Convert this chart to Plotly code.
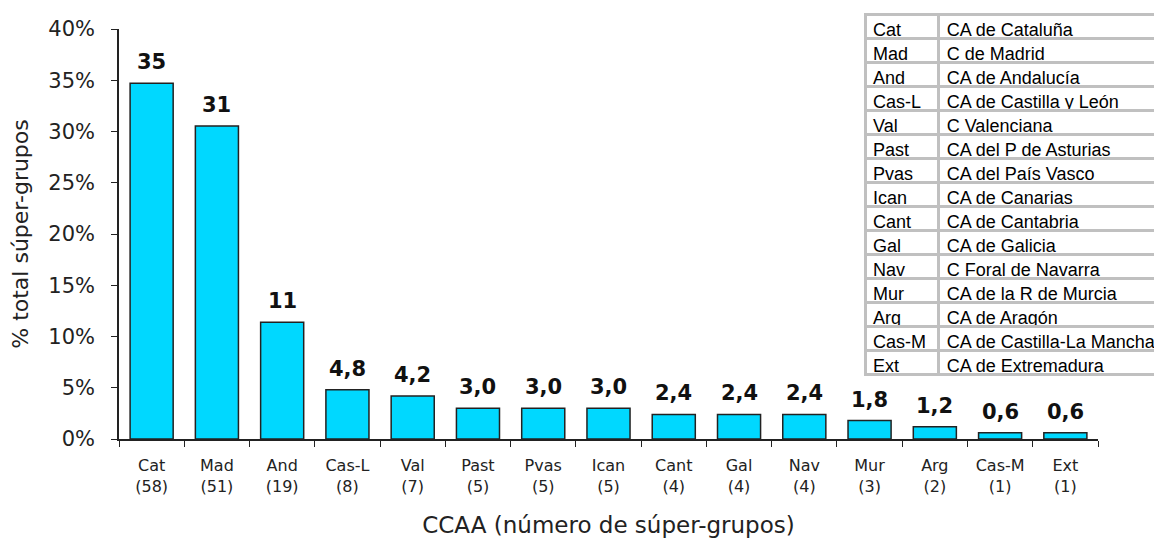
import plotly.graph_objects as go
from decimal import Decimal, ROUND_HALF_UP

# ---- data ----
codes = ["Cat", "Mad", "And", "Cas-L", "Val", "Past", "Pvas", "Ican", "Cant", "Gal", "Nav", "Mur", "Arg", "Cas-M", "Ext"]
counts = [58, 51, 19, 8, 7, 5, 5, 5, 4, 4, 4, 3, 2, 1, 1]
pct = [34.7, 30.54, 11.4, 4.8, 4.2, 3.0, 3.0, 3.0, 2.4, 2.4, 2.4, 1.8, 1.2, 0.6, 0.6]
names = ["CA de Cataluña", "C de Madrid", "CA de Andalucía", "CA de Castilla y León",
         "C Valenciana", "CA del P de Asturias", "CA del País Vasco", "CA de Canarias",
         "CA de Cantabria", "CA de Galicia", "C Foral de Navarra", "CA de la R de Murcia",
         "CA de Aragón", "CA de Castilla-La Mancha", "CA de Extremadura"]
yticks = [0, 5, 10, 15, 20, 25, 30, 35, 40]


def fmt(v):
    if v >= 10:
        return str(Decimal(str(v)).quantize(Decimal("1"), rounding=ROUND_HALF_UP))
    return str(Decimal(str(v)).quantize(Decimal("0.1"), rounding=ROUND_HALF_UP)).replace(".", ",")


xlabels = [f"{c}<br>({n})" for c, n in zip(codes, counts)]
labels = [fmt(v) for v in pct]

W, H = 1162, 550
ml, mr, mt, mb = 111, 0, 0, 119
pw, ph = W - ml - mr, H - mt - mb

fig = go.Figure()
fig.add_trace(go.Bar(
    x=xlabels, y=pct,
    marker=dict(color="#00D8FF", line=dict(color="#222222", width=1.5)),
    showlegend=False, hoverinfo="x+y",
))

for xl, v, lab in zip(xlabels, pct, labels):
    fig.add_annotation(x=xl, y=v, text=f"<b>{lab}</b>", showarrow=False,
                       yanchor="bottom", yshift=7,
                       font=dict(family="DejaVu Sans", size=21, color="#111111"))

fig.add_trace(go.Table(
    domain=dict(x=[(857 - ml) / pw, 1.0], y=[(431 - 384) / ph, (431 - 6) / ph]),
    columnwidth=[72, 225],
    header=dict(values=[codes[0], names[0]], align="left", height=24,
                fill_color="white", line=dict(color="#c0c0c0", width=3),
                font=dict(family="Liberation Sans", size=18, color="black")),
    cells=dict(values=[codes[1:], names[1:]], align="left", height=24,
               fill_color="white", line=dict(color="#c0c0c0", width=3),
               font=dict(family="Liberation Sans", size=18, color="black")),
))

fig.update_layout(
    width=W, height=H,
    margin=dict(l=ml, r=mr, t=mt, b=mb, autoexpand=False),
    paper_bgcolor="white", plot_bgcolor="white",
    bargap=0.34,
    font=dict(family="DejaVu Sans", color="#222222"),
    xaxis=dict(
        domain=[0, (1090 - ml) / pw], automargin=False,
        showline=True, linecolor="#222222", linewidth=1.5,
        ticks="outside", tickson="boundaries", ticklen=6, tickcolor="#222222",
        tickfont=dict(size=16), ticklabelstandoff=11,
        title=dict(text="CCAA (número de súper-grupos)", font=dict(size=23), standoff=22),
    ),
    yaxis=dict(
        domain=[0, (431 - 21) / ph], automargin=False,
        range=[0, 40], tickvals=yticks, ticktext=[f"{t}%" for t in yticks],
        showline=True, linecolor="#222222", linewidth=1.5,
        ticks="outside", ticklen=6, tickcolor="#222222",
        showgrid=False, zeroline=False,
        tickfont=dict(size=21), ticklabelstandoff=12,
        title=dict(text="% total súper-grupos", font=dict(size=22), standoff=22),
    ),
)

fig.write_html("out.html")
